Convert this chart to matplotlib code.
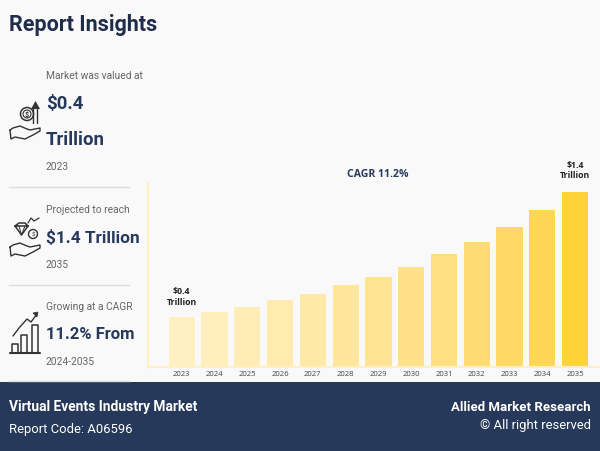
import matplotlib
matplotlib.use("Agg")
import matplotlib.pyplot as plt
from matplotlib.patches import Rectangle, Circle, Polygon

years = ["2023","2024","2025","2026","2027","2028","2029","2030","2031","2032","2033","2034","2035"]
values = [0.40,0.44,0.48,0.53,0.58,0.65,0.72,0.80,0.90,1.00,1.12,1.25,1.40]
bar_colors = ["#FFF0C1","#FFEFBC","#FFEDB5","#FFEBAE","#FFE9A6","#FFE69B","#FFE493","#FFE189","#FFDF7F","#FFDC72","#FFD966","#FFD655","#FFD23A"]

NAVY = "#26395B"
DARK = "#1F2C4A"
GREY = "#666666"
BG = "#F9F9F9"
AXIS = "#FFF0C4"
W, H = 600, 452

fig = plt.figure(figsize=(6, 4.52), dpi=100, facecolor=BG)
plt.rcParams["font.family"] = "Roboto"

# chart
ax = fig.add_axes([148/W, 1-367.5/H, (W-148)/W, (367.5-183.5)/H], facecolor="none")
x = list(range(len(years)))
ax.bar(x, values, width=0.8, color=bar_colors, linewidth=0)
ax.set_xlim(-1.03, 12.76)
ax.set_ylim(0, 1.472)
ax.set_xticks(x, years, fontsize=5.6, color="#444444", family="Open Sans")
ax.tick_params(axis="x", length=0, pad=2.5)
ax.set_yticks([])
for s in ("top", "right"):
    ax.spines[s].set_visible(False)
for s in ("left", "bottom"):
    ax.spines[s].set_color(AXIS)
    ax.spines[s].set_linewidth(1.6)
ax.text(0, values[0]+0.085, r"\$0.4" + "\nTrillion", ha="center", va="bottom", fontsize=6.3, fontweight="bold",
        color="#222222", family="Open Sans", linespacing=1.2)
ax.text(12, values[-1]+0.10, r"\$1.4" + "\nTrillion", ha="center", va="bottom", fontsize=6.3, fontweight="bold",
        color="#222222", family="Open Sans", linespacing=1.2)
ax.text(5.98, 1.54, "CAGR 11.2%", ha="center", va="center", fontsize=7.6, fontweight="bold",
        color=NAVY, family="Open Sans", clip_on=False)

# overlay in pixel coordinates
ov = fig.add_axes([0, 0, 1, 1], facecolor="none")
ov.set_xlim(0, W); ov.set_ylim(H, 0); ov.axis("off")

ov.add_patch(Rectangle((0, 383), W, 69, fc=NAVY, ec="none"))
ov.text(9, 25, "Report Insights", fontsize=15.5, fontweight="bold", color=DARK, va="center")

def t(px, py, s, size, color=GREY, weight="normal", ha="left"):
    ov.text(px, py, s.replace("$", r"\$"), fontsize=size, color=color, fontweight=weight, va="center", ha=ha)

t(46, 76, "Market was valued at", 7.4)
t(46, 104, "$0.4", 13.4, NAVY, "bold")
t(46, 140, "Trillion", 13.4, NAVY, "bold")
t(46, 167, "2023", 7.4)
t(46, 210, "Projected to reach", 7.4)
t(46, 238, "$1.4 Trillion", 12.4, NAVY, "bold")
t(46, 265, "2035", 7.4)
t(46, 307, "Growing at a CAGR", 7.4)
t(46, 335, "11.2% From", 12.0, NAVY, "bold")
t(46, 362, "2024-2035", 7.4)

for yy in (188, 285.5, 382):
    ov.plot([9, 129], [yy, yy], color="#DDDDDD", lw=1)

t(9, 407, "Virtual Events Industry Market", 9.9, "white", "bold")
t(9, 430, "Report Code: A06596", 9.4, "white")
t(591, 408, "Allied Market Research", 9.5, "white", "bold", "right")
t(591, 426, "© All right reserved", 9.4, "white", "normal", "right")

# icons
ic = "#333333"
def line(xs, ys, lw=1):
    ov.plot(xs, ys, color=ic, lw=lw, solid_capstyle="round", solid_joinstyle="round")

def hand(dx, dy):
    line([10+dx, 13+dx, 20+dx, 27+dx, 30+dx, 40+dx, 40+dx, 33+dx, 25+dx, 15+dx, 11+dx, 10+dx],
         [130+dy, 128+dy, 126+dy, 129+dy, 130+dy, 128+dy, 131+dy, 135+dy, 139+dy, 137+dy, 139+dy, 130+dy])

# money hand
hand(0, 1)
ov.add_patch(Circle((27, 115), 6.5, fc="none", ec=ic, lw=1.1))
ov.add_patch(Circle((27, 115), 4, fc="none", ec=ic, lw=0.8))
ov.text(27, 115, r"\$", fontsize=5, color=ic, ha="center", va="center", fontweight="bold")
line([33, 33, 37, 37], [124, 108, 108, 124], 1)
ov.add_patch(Polygon([[31, 110], [35.5, 102], [40, 110]], fc=ic, ec="none"))

# diamond and coin hand
hand(0, 118)
line([15, 19, 25, 28, 21.5, 15, 28], [227, 224, 224, 227, 236, 227, 227], 1.1)
line([19, 21.5, 25], [227, 236, 227], 0.7)
ov.add_patch(Circle((33, 235), 4.5, fc="none", ec=ic, lw=1))
ov.text(33, 235, r"\$", fontsize=4.5, color=ic, ha="center", va="center")
line([28, 31, 34, 39], [224, 219, 222, 219], 0.9)

# growth chart
line([10, 40], [354, 354], 1.5)
for bx, by in ((11.5, 345), (21, 336), (32, 326)):
    line([bx, bx, bx+6, bx+6], [354, by, by, 354], 1.1)
line([13, 19, 27, 31, 37], [337, 329, 320, 323, 315], 1)
ov.add_patch(Polygon([[33, 314], [38, 313], [37, 318]], fc=ic, ec=ic, lw=0.5))

fig.savefig("out.png", dpi=100, facecolor=BG)
